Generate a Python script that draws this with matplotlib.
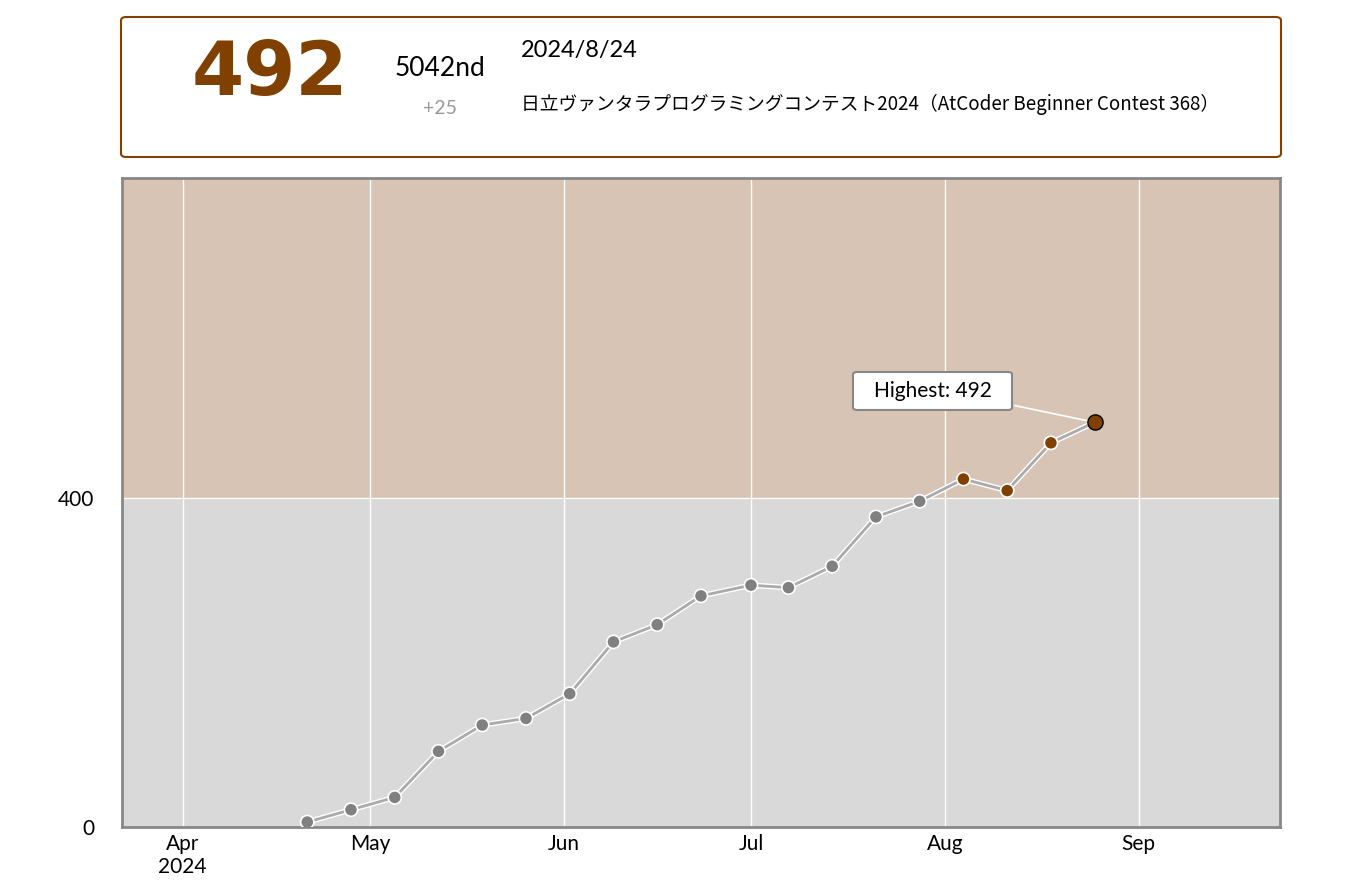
import matplotlib
matplotlib.use("Agg")
import matplotlib.pyplot as plt
import matplotlib.dates as mdates
from matplotlib.patches import FancyBboxPatch
import datetime as dt

dates = ["2024-04-20","2024-04-27","2024-05-04","2024-05-11","2024-05-18","2024-05-25",
         "2024-06-01","2024-06-08","2024-06-15","2024-06-22","2024-06-30","2024-07-06",
         "2024-07-13","2024-07-20","2024-07-27","2024-08-03","2024-08-10","2024-08-17","2024-08-24"]
ratings = [6, 21, 36, 92, 124, 132, 162, 225, 246, 281, 294, 291, 317, 377, 396, 423, 409, 467, 492]
tick_dates = ["2024-04-01","2024-05-01","2024-06-01","2024-07-01","2024-08-01","2024-09-01"]
tick_labels = ["Apr\n2024","May","Jun","Jul","Aug","Sep"]

plt.rcParams['font.family'] = ['Lato', 'DejaVu Sans']
fig = plt.figure(figsize=(13.48, 8.84), dpi=100)
W, H = 1348, 884
ax = fig.add_axes([122/W, 1-827/H, (1280-122)/W, (827-178)/H])

xd = [mdates.date2num(dt.datetime.fromisoformat(d + "T22:40")) for d in dates]
xmin = mdates.date2num(dt.date(2024, 3, 22)) + 0.3
xmax = mdates.date2num(dt.date(2024, 9, 23)) + 0.6
ymax = 789
ax.set_xlim(xmin, xmax); ax.set_ylim(0, ymax)
ax.axhspan(0, 400, color="#D9D9D9", zorder=0)
ax.axhspan(400, ymax, color="#D7C4B4", zorder=0)
tx = [mdates.date2num(dt.date.fromisoformat(d)) for d in tick_dates]
for t in tx:
    ax.axvline(t, color="white", lw=1, zorder=1)
ax.axhline(400, color="white", lw=1, zorder=1)
ax.set_xticks(tx); ax.set_xticklabels(tick_labels, fontsize=15)
ax.set_yticks([0, 400]); ax.set_yticklabels(["0", "400"], fontsize=15)
ax.tick_params(length=0, pad=5)
ax.tick_params(axis='y', pad=20)
for s in ax.spines.values():
    s.set_color("#888888"); s.set_linewidth(2)

ax.plot(xd, ratings, color="white", lw=4, zorder=2)
ax.plot(xd, ratings, color="#AAAAAA", lw=2, zorder=3)
cols = ["#804000" if r >= 400 else "#808080" for r in ratings]
ax.scatter(xd[:-1], ratings[:-1], s=90, c=cols[:-1], edgecolors="white", linewidths=1.2, zorder=4)
ax.scatter(xd[-1:], ratings[-1:], s=120, c=cols[-1:], edgecolors="black", linewidths=1, zorder=5)

# Highest tooltip
bx0, bx1, by0, by1 = 853/W, 1012/W, 1-410/H, 1-372/H
fig.patches.append(FancyBboxPatch((bx0, by0), bx1-bx0, by1-by0, boxstyle="round,pad=0,rounding_size=0.003",
                                  transform=fig.transFigure, fc="white", ec="#888888", lw=1.5, zorder=10))
fig.text((bx0+bx1)/2, (by0+by1)/2, "Highest: 492", ha="center", va="center", fontsize=15, zorder=11)
ax.annotate("", xy=(xd[-1], ratings[-1]), xycoords="data", xytext=(bx1, 1-405/H),
            textcoords="figure fraction", arrowprops=dict(arrowstyle="-", color="white", lw=1.2))

# Top panel
fig.patches.append(FancyBboxPatch((121/W, 1-157/H), 1160/W, 140/H, boxstyle="round,pad=0,rounding_size=0.004",
                                  transform=fig.transFigure, fc="white", ec="#804000", lw=1.5))
fig.text(270/W, 1-75/H, "492", ha="center", va="center", fontsize=54, color="#804000",
         fontweight="heavy", family=["DejaVu Sans"])
fig.text(440/W, 1-69/H, "5042nd", ha="center", va="center", fontsize=19)
fig.text(440/W, 1-109/H, "+25", ha="center", va="center", fontsize=14, color="#999999")
fig.text(521/W, 1-51/H, "2024/8/24", ha="left", va="center", fontsize=17)
fig.text(521/W, 1-104/H, "日立ヴァンタラプログラミングコンテスト2024（AtCoder Beginner Contest 368）",
         ha="left", va="center", fontsize=13.5, family=["Noto Sans CJK JP", "DejaVu Sans"])

fig.savefig("out.png", dpi=100)
